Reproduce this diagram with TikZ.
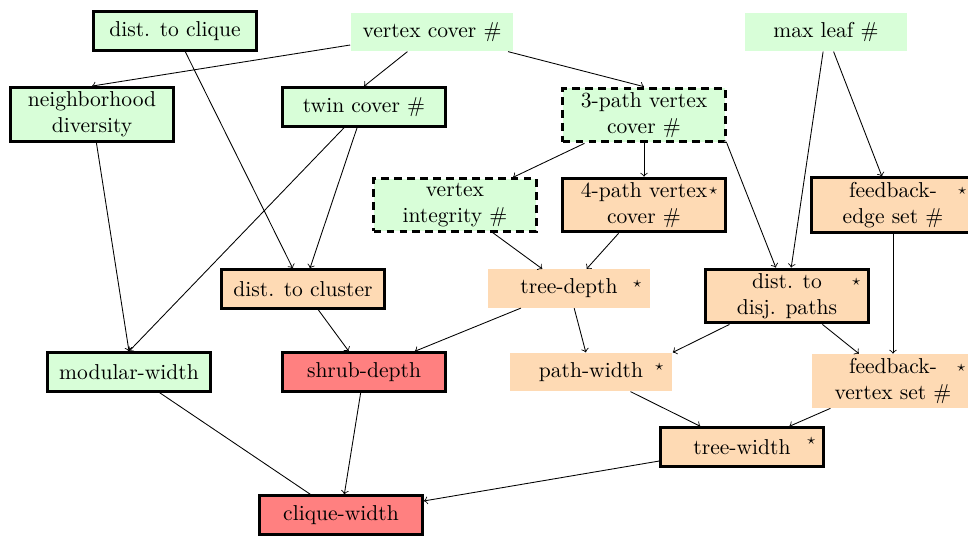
\documentclass[tikz,border=0pt]{standalone}
\definecolor{gfill}{RGB}{216,254,216}
\definecolor{ofill}{RGB}{254,218,180}
\definecolor{rfill}{RGB}{255,128,128}
\tikzset{
  box/.style={minimum width=75.5pt, minimum height=17.8pt, inner sep=2pt, align=center},
  bord/.style={draw, line width=1.4pt},
  dashbord/.style={draw, line width=1.4pt, dash pattern=on 3.6pt off 2.4pt},
  gr/.style={box, fill=gfill},
  pe/.style={box, fill=ofill},
  rd/.style={box, fill=rfill},
  starred/.style={label={[anchor=center, inner sep=0pt, font=\scriptsize, xshift=-6.3pt, yshift=-6.8pt]north east:$\star$}},
  edge/.style={->, line width=0.4pt}
}
\begin{document}
\begin{tikzpicture}[x=0.464pt, y=-0.464pt]
\useasboundingbox (0,0) rectangle (968,536);
% row 1
\node[gr, bord] (dtc) at (175,31) {dist. to clique};
\node[gr] (vc) at (432,32) {vertex cover $\#$};
\node[gr] (ml) at (826,32) {max leaf $\#$};
% row 2
\node[gr, bord] (nd) at (92,114.5) {neighborhood\\diversity};
\node[gr, bord] (tc) at (364,107) {twin cover $\#$};
\node[gr, dashbord] (p3) at (644,115) {3-path vertex\\cover $\#$};
% row 3
\node[gr, dashbord] (vi) at (455,205) {vertex\\integrity $\#$};
\node[pe, bord, starred] (p4) at (644,205) {4-path vertex\\cover $\#$};
\node[pe, bord, starred] (fes) at (893,205) {feedback-\\edge set $\#$};
% row 4
\node[pe, bord] (dcl) at (303,289) {dist. to cluster};
\node[pe, starred] (td) at (569,288.5) {tree-depth};
\node[pe, bord, starred] (ddp) at (787,296) {dist. to\\disj. paths};
% row 5
\node[gr, bord] (mw) at (129,372) {modular-width};
\node[rd, bord] (sd) at (364,372) {shrub-depth};
\node[pe, starred] (pw) at (591,372) {path-width};
\node[pe, starred] (fvs) at (893,381) {feedback-\\vertex set $\#$};
% row 6
\node[pe, bord, starred] (tw) at (742,447) {tree-width};
\node[rd, bord] (cw) at (341,515) {clique-width};
% edges
\draw[edge] (vc) -- (nd.north);
\draw[edge] (vc) -- (tc.north);
\draw[edge] (vc) -- (p3.north);
\draw[edge] (dtc) -- (dcl);
\draw[edge] (tc) -- (dcl);
\draw[edge] (tc) -- (mw.north);
\draw[edge] (nd) -- (mw.north);
\draw[edge] (p3) -- (vi);
\draw[edge] (p3) -- (p4);
\draw[edge] (p3.south east) -- (ddp);
\draw[edge] (ml) -- (ddp);
\draw[edge] (ml) -- (fes);
\draw[edge] (vi) -- (td);
\draw[edge] (p4) -- (td);
\draw[edge] (fes) -- (fvs);
\draw[edge] (dcl) -- (sd);
\draw[edge] (td) -- (sd);
\draw[edge] (td) -- (pw);
\draw[edge] (ddp) -- (pw.north east);
\draw[edge] (ddp) -- (fvs);
\draw[line width=0.4pt] (mw) -- (cw);
\draw[edge] (sd) -- (cw);
\draw[edge] (pw) -- (tw);
\draw[edge] (fvs) -- (tw);
\draw[edge] (tw) -- (cw);
\end{tikzpicture}
\end{document}
